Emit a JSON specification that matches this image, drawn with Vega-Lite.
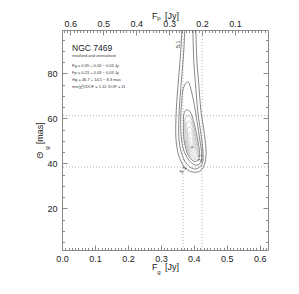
{
  "$schema": "https://vega.github.io/schema/vega-lite/v6.json",
  "width": 206,
  "height": 220,
  "autosize": {"type": "none"},
  "padding": {"left": 62, "top": 30, "right": 31, "bottom": 44},
  "background": "white",
  "config": {
    "view": {"stroke": "#8a8a8a", "strokeWidth": 1},
    "font": "Liberation Sans",
    "axis": {
      "grid": false, "domain": false,
      "labelFont": "Liberation Sans", "titleFont": "Liberation Sans",
      "labelFontSize": 9, "titleFontSize": 9, "titleFontWeight": "normal",
      "tickColor": "#8a8a8a", "tickWidth": 1,
      "labelColor": "#222", "titleColor": "#222",
      "labelFlush": false, "labelOverlap": false, "labelBound": false
    }
  },
  "datasets": {
    "vrules": [{"F": 0.367}, {"F": 0.425}],
    "hrules": [{"T": 61.2}, {"T": 38.4}],
    "open": [
      {"c": "A", "o": 1, "F": 0.364, "T": 101},
      {"c": "A", "o": 2, "F": 0.3606, "T": 90.4},
      {"c": "A", "o": 3, "F": 0.3545, "T": 79.2},
      {"c": "A", "o": 4, "F": 0.3485, "T": 68.1},
      {"c": "A", "o": 5, "F": 0.3455, "T": 59.2},
      {"c": "A", "o": 6, "F": 0.3455, "T": 51.2},
      {"c": "A", "o": 7, "F": 0.3515, "T": 45.0},
      {"c": "A", "o": 8, "F": 0.3636, "T": 40.1},
      {"c": "A", "o": 9, "F": 0.3818, "T": 37.0},
      {"c": "A", "o": 10, "F": 0.4, "T": 36.1},
      {"c": "A", "o": 11, "F": 0.4182, "T": 36.6},
      {"c": "A", "o": 12, "F": 0.4303, "T": 38.8},
      {"c": "A", "o": 13, "F": 0.4364, "T": 42.4},
      {"c": "A", "o": 14, "F": 0.4364, "T": 47.2},
      {"c": "A", "o": 15, "F": 0.4303, "T": 54.8},
      {"c": "A", "o": 16, "F": 0.4212, "T": 63.7},
      {"c": "A", "o": 17, "F": 0.4152, "T": 74.8},
      {"c": "A", "o": 18, "F": 0.4091, "T": 85.9},
      {"c": "A", "o": 19, "F": 0.406, "T": 101},
      {"c": "B", "o": 1, "F": 0.3727, "T": 101},
      {"c": "B", "o": 2, "F": 0.3697, "T": 90.4},
      {"c": "B", "o": 3, "F": 0.3636, "T": 79.2},
      {"c": "B", "o": 4, "F": 0.3576, "T": 68.1},
      {"c": "B", "o": 5, "F": 0.3545, "T": 59.2},
      {"c": "B", "o": 6, "F": 0.3545, "T": 51.2},
      {"c": "B", "o": 7, "F": 0.3606, "T": 45.5},
      {"c": "B", "o": 8, "F": 0.3727, "T": 41.0},
      {"c": "B", "o": 9, "F": 0.3879, "T": 38.4},
      {"c": "B", "o": 10, "F": 0.403, "T": 37.5},
      {"c": "B", "o": 11, "F": 0.4182, "T": 38.4},
      {"c": "B", "o": 12, "F": 0.4273, "T": 41.0},
      {"c": "B", "o": 13, "F": 0.4273, "T": 45.9},
      {"c": "B", "o": 14, "F": 0.4212, "T": 53.5},
      {"c": "B", "o": 15, "F": 0.4121, "T": 62.8},
      {"c": "B", "o": 16, "F": 0.406, "T": 73.5},
      {"c": "B", "o": 17, "F": 0.4, "T": 85.0},
      {"c": "B", "o": 18, "F": 0.397, "T": 101}
    ],
    "closed": [
      {"c": "D", "o": 1, "F": 0.3803, "T": 76.2},
      {"c": "D", "o": 2, "F": 0.3742, "T": 75.4},
      {"c": "D", "o": 3, "F": 0.3667, "T": 72.6},
      {"c": "D", "o": 4, "F": 0.3636, "T": 68.1},
      {"c": "D", "o": 5, "F": 0.3606, "T": 61.5},
      {"c": "D", "o": 6, "F": 0.3606, "T": 53.9},
      {"c": "D", "o": 7, "F": 0.3667, "T": 47.2},
      {"c": "D", "o": 8, "F": 0.3788, "T": 42.8},
      {"c": "D", "o": 9, "F": 0.3939, "T": 40.1},
      {"c": "D", "o": 10, "F": 0.4091, "T": 39.2},
      {"c": "D", "o": 11, "F": 0.4212, "T": 40.6},
      {"c": "D", "o": 12, "F": 0.4242, "T": 44.1},
      {"c": "D", "o": 13, "F": 0.4182, "T": 50.4},
      {"c": "D", "o": 14, "F": 0.4091, "T": 59.2},
      {"c": "D", "o": 15, "F": 0.4, "T": 67.2},
      {"c": "D", "o": 16, "F": 0.3909, "T": 73.1},
      {"c": "D", "o": 17, "F": 0.3858, "T": 75.6},
      {"c": "E", "o": 1, "F": 0.3753, "T": 63.6},
      {"c": "E", "o": 2, "F": 0.3692, "T": 61.4},
      {"c": "E", "o": 3, "F": 0.3692, "T": 57.0},
      {"c": "E", "o": 4, "F": 0.3692, "T": 51.6},
      {"c": "E", "o": 5, "F": 0.3753, "T": 46.8},
      {"c": "E", "o": 6, "F": 0.3844, "T": 43.2},
      {"c": "E", "o": 7, "F": 0.3995, "T": 41.0},
      {"c": "E", "o": 8, "F": 0.4117, "T": 41.4},
      {"c": "E", "o": 9, "F": 0.4177, "T": 43.6},
      {"c": "E", "o": 10, "F": 0.4147, "T": 48.1},
      {"c": "E", "o": 11, "F": 0.4056, "T": 54.8},
      {"c": "E", "o": 12, "F": 0.3965, "T": 60.1},
      {"c": "E", "o": 13, "F": 0.3874, "T": 63.2}
    ],
    "gray": [
      {"c": 1, "o": 1, "F": 0.3783, "T": 61.1},
      {"c": 1, "o": 2, "F": 0.3731, "T": 59.3},
      {"c": 1, "o": 3, "F": 0.3731, "T": 55.5},
      {"c": 1, "o": 4, "F": 0.3731, "T": 50.9},
      {"c": 1, "o": 5, "F": 0.3783, "T": 46.9},
      {"c": 1, "o": 6, "F": 0.386, "T": 43.8},
      {"c": 1, "o": 7, "F": 0.3988, "T": 41.9},
      {"c": 1, "o": 8, "F": 0.4092, "T": 42.3},
      {"c": 1, "o": 9, "F": 0.4143, "T": 44.1},
      {"c": 1, "o": 10, "F": 0.4118, "T": 48.0},
      {"c": 1, "o": 11, "F": 0.404, "T": 53.7},
      {"c": 1, "o": 12, "F": 0.3963, "T": 58.2},
      {"c": 1, "o": 13, "F": 0.3885, "T": 60.8},
      {"c": 2, "o": 1, "F": 0.3812, "T": 58.7},
      {"c": 2, "o": 2, "F": 0.3769, "T": 57.1},
      {"c": 2, "o": 3, "F": 0.3769, "T": 54.1},
      {"c": 2, "o": 4, "F": 0.3769, "T": 50.3},
      {"c": 2, "o": 5, "F": 0.3812, "T": 46.9},
      {"c": 2, "o": 6, "F": 0.3876, "T": 44.4},
      {"c": 2, "o": 7, "F": 0.3982, "T": 42.9},
      {"c": 2, "o": 8, "F": 0.4067, "T": 43.1},
      {"c": 2, "o": 9, "F": 0.4109, "T": 44.7},
      {"c": 2, "o": 10, "F": 0.4088, "T": 47.8},
      {"c": 2, "o": 11, "F": 0.4024, "T": 52.5},
      {"c": 2, "o": 12, "F": 0.3961, "T": 56.2},
      {"c": 2, "o": 13, "F": 0.3897, "T": 58.4},
      {"c": 3, "o": 1, "F": 0.3842, "T": 56.2},
      {"c": 3, "o": 2, "F": 0.3808, "T": 55.0},
      {"c": 3, "o": 3, "F": 0.3808, "T": 52.6},
      {"c": 3, "o": 4, "F": 0.3808, "T": 49.6},
      {"c": 3, "o": 5, "F": 0.3842, "T": 47.0},
      {"c": 3, "o": 6, "F": 0.3892, "T": 45.0},
      {"c": 3, "o": 7, "F": 0.3975, "T": 43.8},
      {"c": 3, "o": 8, "F": 0.4042, "T": 44.0},
      {"c": 3, "o": 9, "F": 0.4075, "T": 45.2},
      {"c": 3, "o": 10, "F": 0.4058, "T": 47.7},
      {"c": 3, "o": 11, "F": 0.4008, "T": 51.4},
      {"c": 3, "o": 12, "F": 0.3958, "T": 54.3},
      {"c": 3, "o": 13, "F": 0.3908, "T": 56.0},
      {"c": 4, "o": 1, "F": 0.3871, "T": 53.8},
      {"c": 4, "o": 2, "F": 0.3847, "T": 52.9},
      {"c": 4, "o": 3, "F": 0.3847, "T": 51.1},
      {"c": 4, "o": 4, "F": 0.3847, "T": 49.0},
      {"c": 4, "o": 5, "F": 0.3871, "T": 47.0},
      {"c": 4, "o": 6, "F": 0.3908, "T": 45.6},
      {"c": 4, "o": 7, "F": 0.3968, "T": 44.7},
      {"c": 4, "o": 8, "F": 0.4017, "T": 44.9},
      {"c": 4, "o": 9, "F": 0.4041, "T": 45.8},
      {"c": 4, "o": 10, "F": 0.4029, "T": 47.6},
      {"c": 4, "o": 11, "F": 0.3992, "T": 50.2},
      {"c": 4, "o": 12, "F": 0.3956, "T": 52.4},
      {"c": 4, "o": 13, "F": 0.392, "T": 53.6},
      {"c": 5, "o": 1, "F": 0.3897, "T": 51.6},
      {"c": 5, "o": 2, "F": 0.388, "T": 51.0},
      {"c": 5, "o": 3, "F": 0.388, "T": 49.9},
      {"c": 5, "o": 4, "F": 0.388, "T": 48.4},
      {"c": 5, "o": 5, "F": 0.3897, "T": 47.1},
      {"c": 5, "o": 6, "F": 0.3921, "T": 46.1},
      {"c": 5, "o": 7, "F": 0.3962, "T": 45.5},
      {"c": 5, "o": 8, "F": 0.3995, "T": 45.6},
      {"c": 5, "o": 9, "F": 0.4011, "T": 46.2},
      {"c": 5, "o": 10, "F": 0.4003, "T": 47.4},
      {"c": 5, "o": 11, "F": 0.3979, "T": 49.3},
      {"c": 5, "o": 12, "F": 0.3954, "T": 50.7},
      {"c": 5, "o": 13, "F": 0.3929, "T": 51.5},
      {"c": 6, "o": 1, "F": 0.3922, "T": 49.5},
      {"c": 6, "o": 2, "F": 0.3914, "T": 49.2},
      {"c": 6, "o": 3, "F": 0.3914, "T": 48.6},
      {"c": 6, "o": 4, "F": 0.3914, "T": 47.8},
      {"c": 6, "o": 5, "F": 0.3922, "T": 47.1},
      {"c": 6, "o": 6, "F": 0.3935, "T": 46.6},
      {"c": 6, "o": 7, "F": 0.3956, "T": 46.3},
      {"c": 6, "o": 8, "F": 0.3973, "T": 46.4},
      {"c": 6, "o": 9, "F": 0.3982, "T": 46.7},
      {"c": 6, "o": 10, "F": 0.3978, "T": 47.3},
      {"c": 6, "o": 11, "F": 0.3965, "T": 48.3},
      {"c": 6, "o": 12, "F": 0.3952, "T": 49.0},
      {"c": 6, "o": 13, "F": 0.3939, "T": 49.4}
    ],
    "title": [{"t": "NGC 7469", "F": 0.0303, "T": 91.3}],
    "notes": [
      {"t": "resolved and unresolved", "F": 0.0303, "T": 87.7},
      {"t": "Fg = 0.39 + 0.03 − 0.03 Jy", "F": 0.0303, "T": 83.2},
      {"t": "Fp = 0.23 + 0.03 − 0.03 Jy", "F": 0.0303, "T": 80.1},
      {"t": "Θg = 46.7 + 14.5 − 8.3 mas", "F": 0.0303, "T": 77.0},
      {"t": "min(χ²)/DOF = 1.11; DOF = 11", "F": 0.0303, "T": 73.9}
    ],
    "clabV": [
      {"t": "5.1", "F": 0.3505, "T": 93.0},
      {"t": "2.1", "F": 0.4182, "T": 42.4}
    ],
    "clabS": [{"t": "5.1", "F": 0.3667, "T": 37.2}],
    "best": [{"F": 0.395, "T": 47.2}],
    "subX": [{"s": "g", "F": 0.3125, "T": 1.5}],
    "subTop": [{"s": "p", "F": 0.3125, "T": 99.3}],
    "subY": [{"s": "g", "F": 0, "T": 50.4}]
  },
  "resolve": {"axis": {"x": "independent", "y": "independent"}},
  "layer": [
    {
      "data": {"name": "vrules"},
      "mark": {"type": "rule", "color": "#a0a0a0", "strokeDash": [1, 2], "strokeWidth": 0.8},
      "encoding": {
        "x": {"field": "F", "type": "quantitative",
          "scale": {"domain": [0, 0.625], "nice": false, "zero": false},
          "axis": {"orient": "bottom", "values": [0, 0.1, 0.2, 0.3, 0.4, 0.5, 0.6], "format": ".1f",
            "tickSize": -5, "labelPadding": 9, "title": "F\u00a0\u00a0\u00a0[Jy]", "titlePadding": -1}}
      }
    },
    {
      "data": {"name": "hrules"},
      "mark": {"type": "rule", "color": "#a0a0a0", "strokeDash": [1, 2], "strokeWidth": 0.8},
      "encoding": {
        "y": {"field": "T", "type": "quantitative",
          "scale": {"domain": [1.5, 99.3], "nice": false, "zero": false},
          "axis": {"orient": "left", "values": [20, 40, 60, 80],
            "tickSize": -5, "labelPadding": 10, "title": "Θ\u00a0\u00a0\u00a0[mas]", "titlePadding": 2}}
      }
    },
    {
      "data": {"name": "open"},
      "mark": {"type": "line", "color": "#555", "strokeWidth": 0.7, "interpolate": "catmull-rom", "clip": true},
      "encoding": {
        "x": {"field": "F", "type": "quantitative",
          "scale": {"domain": [0, 0.625], "nice": false, "zero": false},
          "axis": {"orient": "bottom", "tickCount": 62, "tickSize": -2.5, "labels": false, "title": null}},
        "y": {"field": "T", "type": "quantitative",
          "scale": {"domain": [1.5, 99.3], "nice": false, "zero": false},
          "axis": {"orient": "left", "tickCount": 20, "tickSize": -2.5, "labels": false, "title": null}},
        "detail": {"field": "c"},
        "order": {"field": "o", "type": "quantitative"}
      }
    },
    {
      "data": {"name": "closed"},
      "mark": {"type": "line", "color": "#555", "strokeWidth": 0.7, "interpolate": "cardinal-closed", "clip": true},
      "encoding": {
        "x": {"field": "F", "type": "quantitative",
          "scale": {"domain": [0, 0.625], "nice": false, "zero": false},
          "axis": {"orient": "top", "values": [0.025, 0.125, 0.225, 0.325, 0.425, 0.525],
            "labelExpr": "format(0.625 - datum.value, '.1f')",
            "tickSize": -5, "labelPadding": 7, "title": "F\u00a0\u00a0\u00a0[Jy]", "titlePadding": -1}},
        "y": {"field": "T", "type": "quantitative",
          "scale": {"domain": [1.5, 99.3], "nice": false, "zero": false},
          "axis": {"orient": "right", "values": [20, 40, 60, 80], "tickSize": -5, "labels": false, "title": null}},
        "detail": {"field": "c"},
        "order": {"field": "o", "type": "quantitative"}
      }
    },
    {
      "data": {"name": "gray"},
      "mark": {"type": "line", "strokeWidth": 0.7, "interpolate": "cardinal-closed", "clip": true},
      "encoding": {
        "x": {"field": "F", "type": "quantitative",
          "scale": {"domain": [0, 0.625], "nice": false, "zero": false},
          "axis": {"orient": "top", "tickSize": -2.5, "labels": false, "title": null,
            "values": [0.005,0.015,0.025,0.035,0.045,0.055,0.065,0.075,0.085,0.095,0.105,0.115,0.125,0.135,0.145,0.155,0.165,0.175,0.185,0.195,0.205,0.215,0.225,0.235,0.245,0.255,0.265,0.275,0.285,0.295,0.305,0.315,0.325,0.335,0.345,0.355,0.365,0.375,0.385,0.395,0.405,0.415,0.425,0.435,0.445,0.455,0.465,0.475,0.485,0.495,0.505,0.515,0.525,0.535,0.545,0.555,0.565,0.575,0.585,0.595,0.605,0.615]}},
        "y": {"field": "T", "type": "quantitative",
          "scale": {"domain": [1.5, 99.3], "nice": false, "zero": false},
          "axis": {"orient": "right", "tickCount": 20, "tickSize": -2.5, "labels": false, "title": null}},
        "color": {"field": "c", "type": "ordinal", "legend": null,
          "scale": {"domain": [1, 2, 3, 4, 5, 6], "range": ["#a8a8a8", "#b2b2b2", "#bcbcbc", "#c6c6c6", "#d0d0d0", "#d8d8d8"]}},
        "detail": {"field": "c"},
        "order": {"field": "o", "type": "quantitative"}
      }
    },
    {
      "data": {"name": "title"},
      "mark": {"type": "text", "align": "left", "baseline": "middle", "fontSize": 8.5, "color": "#222"},
      "encoding": {
        "x": {"field": "F", "type": "quantitative", "scale": {"domain": [0, 0.625], "nice": false, "zero": false}, "axis": null},
        "y": {"field": "T", "type": "quantitative", "scale": {"domain": [1.5, 99.3], "nice": false, "zero": false}, "axis": null},
        "text": {"field": "t"}
      }
    },
    {
      "data": {"name": "notes"},
      "mark": {"type": "text", "align": "left", "baseline": "middle", "fontSize": 4, "color": "#333"},
      "encoding": {
        "x": {"field": "F", "type": "quantitative", "scale": {"domain": [0, 0.625], "nice": false, "zero": false}, "axis": null},
        "y": {"field": "T", "type": "quantitative", "scale": {"domain": [1.5, 99.3], "nice": false, "zero": false}, "axis": null},
        "text": {"field": "t"}
      }
    },
    {
      "data": {"name": "clabV"},
      "mark": {"type": "text", "align": "center", "baseline": "middle", "fontSize": 5.5, "angle": 270, "color": "#333"},
      "encoding": {
        "x": {"field": "F", "type": "quantitative", "scale": {"domain": [0, 0.625], "nice": false, "zero": false}, "axis": null},
        "y": {"field": "T", "type": "quantitative", "scale": {"domain": [1.5, 99.3], "nice": false, "zero": false}, "axis": null},
        "text": {"field": "t"}
      }
    },
    {
      "data": {"name": "clabS"},
      "mark": {"type": "text", "align": "center", "baseline": "middle", "fontSize": 5.5, "angle": 305, "color": "#333"},
      "encoding": {
        "x": {"field": "F", "type": "quantitative", "scale": {"domain": [0, 0.625], "nice": false, "zero": false}, "axis": null},
        "y": {"field": "T", "type": "quantitative", "scale": {"domain": [1.5, 99.3], "nice": false, "zero": false}, "axis": null},
        "text": {"field": "t"}
      }
    },
    {
      "data": {"name": "best"},
      "mark": {"type": "point", "shape": "cross", "size": 8, "filled": true, "color": "#777"},
      "encoding": {
        "x": {"field": "F", "type": "quantitative", "scale": {"domain": [0, 0.625], "nice": false, "zero": false}, "axis": null},
        "y": {"field": "T", "type": "quantitative", "scale": {"domain": [1.5, 99.3], "nice": false, "zero": false}, "axis": null}
      }
    },
    {
      "data": {"name": "subX"},
      "mark": {"type": "text", "align": "center", "baseline": "middle", "fontSize": 6, "dx": -6, "dy": 22, "color": "#222", "clip": false},
      "encoding": {
        "x": {"field": "F", "type": "quantitative", "scale": {"domain": [0, 0.625], "nice": false, "zero": false}, "axis": null},
        "y": {"field": "T", "type": "quantitative", "scale": {"domain": [1.5, 99.3], "nice": false, "zero": false}, "axis": null},
        "text": {"field": "s"}
      }
    },
    {
      "data": {"name": "subTop"},
      "mark": {"type": "text", "align": "center", "baseline": "middle", "fontSize": 6, "dx": -6, "dy": -12, "color": "#222", "clip": false},
      "encoding": {
        "x": {"field": "F", "type": "quantitative", "scale": {"domain": [0, 0.625], "nice": false, "zero": false}, "axis": null},
        "y": {"field": "T", "type": "quantitative", "scale": {"domain": [1.5, 99.3], "nice": false, "zero": false}, "axis": null},
        "text": {"field": "s"}
      }
    },
    {
      "data": {"name": "subY"},
      "mark": {"type": "text", "align": "center", "baseline": "middle", "fontSize": 6, "angle": 270, "dx": -8, "dy": -15, "color": "#222", "clip": false},
      "encoding": {
        "x": {"field": "F", "type": "quantitative", "scale": {"domain": [0, 0.625], "nice": false, "zero": false}, "axis": null},
        "y": {"field": "T", "type": "quantitative", "scale": {"domain": [1.5, 99.3], "nice": false, "zero": false}, "axis": null},
        "text": {"field": "s"}
      }
    }
  ]
}
